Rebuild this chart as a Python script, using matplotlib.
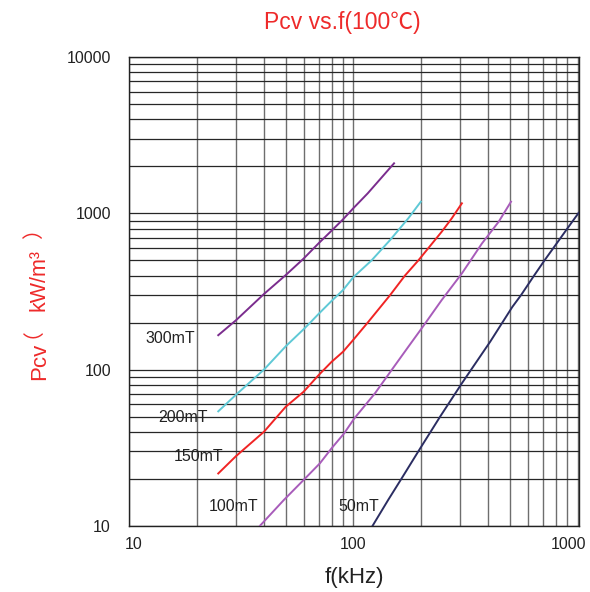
import matplotlib
matplotlib.use("Agg")
import matplotlib.pyplot as plt
from matplotlib.ticker import LogLocator, NullFormatter, FixedLocator, FixedFormatter
from matplotlib.transforms import ScaledTranslation

plt.rcParams["font.family"] = ["Liberation Sans", "Noto Sans CJK SC", "DejaVu Sans"]

# core loss curves (f in kHz, Pcv in kW/m3)
F_300 = [25, 30, 40, 50, 60, 70, 80, 90, 100, 116, 152]
P_300 = [166, 207, 305, 403, 513, 643, 775, 916, 1079, 1345, 2094]

F_200 = [25, 30, 40, 50, 60, 64.3, 70, 80, 85.3, 90, 100, 120.6, 146, 176, 200]
P_200 = [54, 69, 100, 141, 181, 200, 227, 275, 300, 323, 390, 500, 676, 931, 1189]

F_150 = [25, 30, 40, 45, 50, 60, 70, 80, 90, 100, 116, 146, 170, 195, 248, 275, 305]
P_150 = [21.6, 27.9, 40, 48.6, 57.8, 72, 92, 112, 130, 155, 200, 300, 400, 500, 764, 931, 1161]

F_100 = [38.4, 49, 60, 71, 80, 91, 101, 125, 148, 176, 202, 248, 305, 375, 445, 505]
P_100 = [10, 14.6, 19.6, 25.1, 31.3, 39, 48.6, 70.5, 99, 140, 184, 279, 413, 643, 885, 1189]

F_50 = [122, 143, 164, 198, 244, 305, 408, 512, 560, 640, 712, 780, 900, 1012]
P_50 = [10, 14.6, 20, 31, 50, 81.7, 151, 252, 300, 400, 500, 600, 800, 1010]

CURVE_LABELS = ["300mT", "200mT", "150mT", "100mT", "50mT"]
X_TICKS = [10, 100, 1000]
Y_TICKS = [10, 100, 1000, 10000]

COLORS = ["#7b2d8e", "#5fc9d6", "#f02424", "#a85cba", "#2b2d62"]
LABEL_POS = [(11.9, 157), (13.5, 49), (15.9, 27.9), (22.7, 13.2), (85.4, 13.2)]
XLABEL_SHIFT_PX = [5, 0, -9]

fig = plt.figure(figsize=(5.9, 5.92), dpi=100)
ax = fig.add_axes([129 / 590, 1 - 525.7 / 592, 450 / 590, 468.4 / 592])

curves = [(F_300, P_300), (F_200, P_200), (F_150, P_150), (F_100, P_100), (F_50, P_50)]
for (f, p), c in zip(curves, COLORS):
    ax.plot(f, p, color=c, lw=1.4, zorder=3)

for name, (x, y) in zip(CURVE_LABELS, LABEL_POS):
    ax.text(x, y, name, fontsize=11.5, color="#222222", ha="left", va="center", zorder=4)

ax.set_xscale("log")
ax.set_yscale("log")
ax.set_xlim(10, 1015)
ax.set_ylim(10, 10000)

ax.xaxis.set_major_locator(FixedLocator(X_TICKS))
ax.xaxis.set_major_formatter(FixedFormatter([str(v) for v in X_TICKS]))
ax.yaxis.set_major_locator(FixedLocator(Y_TICKS))
ax.yaxis.set_major_formatter(FixedFormatter([str(v) for v in Y_TICKS]))
for axis in (ax.xaxis, ax.yaxis):
    axis.set_minor_locator(LogLocator(base=10, subs=range(2, 10), numticks=20))
    axis.set_minor_formatter(NullFormatter())

ax.tick_params(which="both", length=0, labelsize=11.5, labelcolor="#222222")
ax.tick_params(axis="y", pad=13)
ax.tick_params(axis="x", pad=8)

# the source chart nudges the outer x labels inwards
for lbl, dx in zip(ax.get_xticklabels(), XLABEL_SHIFT_PX):
    lbl.set_transform(lbl.get_transform() + ScaledTranslation(dx / 100, 0, fig.dpi_scale_trans))

ax.grid(axis="x", which="both", color="#6e6e6e", lw=1.0)
ax.grid(axis="y", which="both", color="#262626", lw=0.9)
ax.set_axisbelow(True)
for s in ax.spines.values():
    s.set_color("#222222")
    s.set_linewidth(1.0)

fig.text(342 / 590, 1 - 22 / 592, "Pcv vs.f(100℃)", color="#ee2a2a",
         fontsize=16.5, ha="center", va="center")
fig.text(354 / 590, 1 - 578 / 592, "f(kHz)", color="#222222",
         fontsize=16, ha="center", va="center")

# y label built from pieces: "Pcv" a bit larger than the unit part;
# the CJK brackets render offset when rotated, so their anchors are nudged
red = "#ee2a2a"
fig.text(45 / 590, 1 - 380 / 592, "Pcv", color=red, fontsize=16,
         rotation=90, rotation_mode="anchor", ha="left", va="baseline")
fig.text(22 / 590, 1 - 328 / 592, "（", color=red, fontsize=15, family="Noto Sans CJK SC",
         rotation=90, rotation_mode="anchor", ha="center", va="center")
fig.text(45 / 590, 1 - 311 / 592, "kW/m³", color=red, fontsize=15.5,
         rotation=90, rotation_mode="anchor", ha="left", va="baseline")
fig.text(34 / 590, 1 - 229 / 592, "）", color=red, fontsize=15, family="Noto Sans CJK SC",
         rotation=90, rotation_mode="anchor", ha="center", va="center")

fig.savefig("out.png", dpi=100)
